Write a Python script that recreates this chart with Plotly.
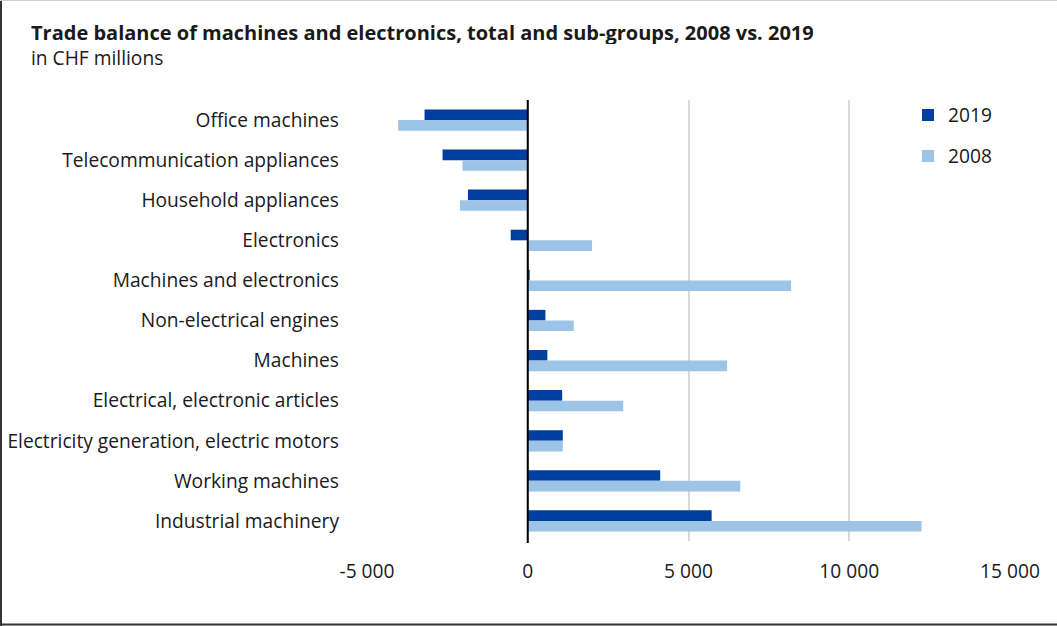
import plotly.graph_objects as go

categories = [
    "Office machines",
    "Telecommunication appliances",
    "Household appliances",
    "Electronics",
    "Machines and electronics",
    "Non-electrical engines",
    "Machines",
    "Electrical, electronic articles",
    "Electricity generation, electric motors",
    "Working machines",
    "Industrial machinery",
]
values_2019 = [-3210, -2650, -1860, -530, 60, 550, 610, 1070, 1090, 4120, 5720]
values_2008 = [-4030, -2030, -2110, 2000, 8190, 1430, 6200, 2970, 1090, 6610, 12250]

tick_values = [-5000, 0, 5000, 10000, 15000]
tick_labels = ["-5 000", "0", "5 000", "10 000", "15 000"]

FONT = "Open Sans, Noto Sans, sans-serif"
DARK = "#003fa0"
LIGHT = "#9dc3e6"

# plot-area geometry (pixels)
W, H = 1057, 626
ML, MR, MT, MB = 367, 47, 100, 85
PW, PH = W - ML - MR, H - MT - MB


def px_x(x):
    return (x - ML) / PW


def px_y(y):
    return (H - MB - y) / PH


fig = go.Figure()
fig.add_trace(go.Bar(
    y=categories, x=values_2019, orientation="h", name="2019",
    marker=dict(color=DARK, line=dict(width=0)), legendgroup="a",
))
fig.add_trace(go.Bar(
    y=categories, x=values_2008, orientation="h", name="2008",
    marker=dict(color=LIGHT, line=dict(width=0)), legendgroup="b",
))

fig.update_layout(
    width=W, height=H,
    paper_bgcolor="white", plot_bgcolor="white",
    margin=dict(l=ML, r=MR, t=MT, b=MB, autoexpand=False),
    barmode="group", bargap=0.47, bargroupgap=0,
    font=dict(family=FONT, size=19.2, color="#1a1a1a"),
    showlegend=True,
    legend=dict(
        x=px_x(908), y=px_y(96), xanchor="left", yanchor="top",
        font=dict(size=19.2), tracegroupgap=13,
        itemwidth=30, bgcolor="rgba(0,0,0,0)",
    ),
    xaxis=dict(
        range=[-5000, 15000], tickvals=tick_values, ticktext=tick_labels,
        showgrid=True, gridcolor="#d9d9d9", gridwidth=2,
        zeroline=False, showline=False, ticks="",
        ticklabelstandoff=17, fixedrange=True, automargin=False,
    ),
    yaxis=dict(
        autorange="reversed", showgrid=False, zeroline=False,
        showline=False, ticks="", ticklabelstandoff=27, automargin=False,
    ),
    shapes=[
        # zero line
        dict(type="line", xref="x", yref="paper", x0=0, x1=0, y0=px_y(543), y1=1,
             line=dict(color="black", width=2)),
        # frame
        dict(type="line", xref="paper", yref="paper", x0=px_x(1), x1=px_x(1),
             y0=px_y(626), y1=px_y(0), line=dict(color="#333333", width=2)),
        dict(type="line", xref="paper", yref="paper", x0=px_x(0), x1=px_x(W),
             y0=px_y(624.5), y1=px_y(624.5), line=dict(color="#333333", width=2)),
        dict(type="line", xref="paper", yref="paper", x0=px_x(0), x1=px_x(W),
             y0=px_y(0.5), y1=px_y(0.5), line=dict(color="#d0d0d0", width=1)),
    ],
    annotations=[
        dict(text="<b>Trade balance of machines and electronics, total and sub-groups, 2008 vs. 2019</b>",
             xref="paper", yref="paper", x=px_x(29), y=px_y(32),
             xanchor="left", yanchor="middle", showarrow=False,
             font=dict(size=20), height=24, valign="middle"),
        dict(text="in CHF millions",
             xref="paper", yref="paper", x=px_x(29), y=px_y(57.5),
             xanchor="left", yanchor="middle", showarrow=False,
             font=dict(size=19.2, color="#1a1a1a"), height=22, valign="middle"),
    ],
)

fig.write_html("out.html")
